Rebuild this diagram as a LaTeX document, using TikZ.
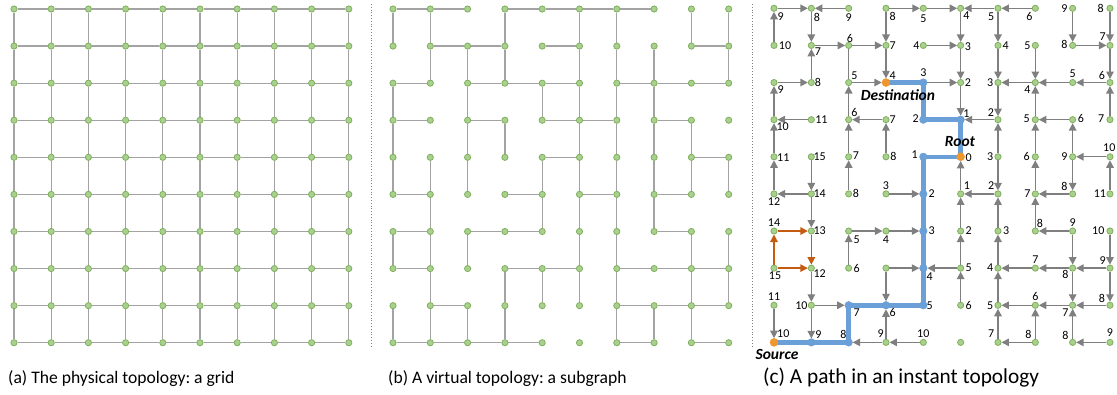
\documentclass[tikz,border=0pt]{standalone}
\usepackage{fontspec}
\setmainfont{Carlito}
\usetikzlibrary{arrows.meta}
\frenchspacing
\definecolor{nfill}{HTML}{A9D18E}
\definecolor{ndraw}{HTML}{7FAF5C}
\definecolor{gline}{HTML}{A3A3A3}
\definecolor{aline}{HTML}{7F7F7F}
\definecolor{pblue}{HTML}{6A9FD8}
\definecolor{porange}{HTML}{F0962E}
\definecolor{oarrow}{HTML}{C55A11}
\pgfdeclarelayer{bg}
\pgfsetlayers{bg,main}
\begin{document}
\begin{tikzpicture}[x=1pt,y=-1pt,
  gn/.style={circle,fill=nfill,draw=ndraw,line width=0.8pt,minimum size=6.2pt,inner sep=0pt},
  bn/.style={circle,fill=pblue,draw=pblue,minimum size=7.6pt,inner sep=0pt},
  on/.style={circle,fill=porange,draw=porange,minimum size=8pt,inner sep=0pt},
  gl/.style={draw=gline,line width=1.3pt},
  plainlink/.style={draw=aline,line width=1.4pt},
  arr/.style={draw=aline,line width=1.4pt,-{Triangle[length=7.5pt,width=7.5pt]}},
  oarr/.style={draw=oarrow,line width=1.4pt,-{Triangle[length=7.5pt,width=7.5pt]}},
  bluepath/.style={draw=pblue,line width=4.5pt,line join=round,line cap=round},
  lbl/.style={font=\fontsize{12}{13}\selectfont,inner sep=0pt,text=black},
  tagtxt/.style={font=\fontsize{15.5}{17}\selectfont\bfseries\itshape,inner sep=0pt},
  captxt/.style={font=\fontsize{17.6}{20}\selectfont,anchor=west,inner sep=0pt},
  bigcap/.style={font=\fontsize{21.3}{23}\selectfont,anchor=west,inner sep=0pt},
  sepline/.style={draw=gray,line width=0.8pt,dotted}]
\useasboundingbox (0,0) rectangle (1117,394);
% ---------- nodes ----------
\foreach \c in {0,...,9}{
  \foreach \r in {0,...,9}{
    \node[gn] (a-\c-\r) at ({14+37.2*\c},{9+37.08*\r}) {};
    \node[gn] (b-\c-\r) at ({393+37.3*\c},{9+37.08*\r}) {};
    \node[gn] (p-\c-\r) at ({774+37.33*\c},{8.3+37.12*\r}) {};
  }}
\foreach \c/\r in {1/9,2/9,2/8,3/8,4/8,4/7,4/6,4/5,4/4,5/3,4/3,4/2}{
  \node[bn] (p-\c-\r) at (p-\c-\r) {};}
\foreach \c/\r in {0/9,5/4,3/2}{
  \node[on] (p-\c-\r) at (p-\c-\r) {};}
\begin{pgfonlayer}{bg}
% ---------- (a) full grid ----------
\foreach \c in {0,...,9}{
  \foreach \r in {0,...,8}{
    \pgfmathtruncatemacro\rn{\r+1}
    \draw[gl] (a-\c-\r) -- (a-\c-\rn);
    \draw[gl] (a-\r-\c) -- (a-\rn-\c);
  }}
% ---------- (b) subgraph ----------
\foreach \c/\r in {0/0,1/0,3/0,4/0,5/0,6/0, 1/1,2/1,4/1,8/1, 0/2,2/2,3/2,4/2,6/2,7/2,8/2,
  0/3,2/3,4/3,5/3,7/3, 4/4,8/4, 0/5,3/5,5/5,7/5, 0/6,2/6,3/6,7/6,
  0/7,3/7,4/7,6/7,7/7,8/7, 1/8,6/8,7/8,8/8, 0/9,1/9,2/9,3/9,6/9,8/9}{
  \pgfmathtruncatemacro\cn{\c+1}
  \draw[gl] (b-\c-\r) -- (b-\cn-\r);}
\foreach \c/\r in {0/0,1/0,3/0,5/0,6/0,8/0,9/0, 1/1,2/1,3/1,5/1,6/1,7/1,9/1,
  0/2,2/2,4/2,5/2,6/2,7/2, 0/3,2/3,3/3,5/3,6/3,7/3,8/3,
  0/4,1/4,2/4,4/4,5/4,6/4,7/4,8/4,9/4, 1/5,4/5,5/5,6/5,7/5,
  0/6,1/6,2/6,5/6,6/6,8/6,9/6, 1/7,3/7,4/7,5/7,6/7,8/7,9/7,
  0/8,1/8,2/8,3/8,6/8,7/8,8/8}{
  \pgfmathtruncatemacro\rn{\r+1}
  \draw[gl] (b-\c-\r) -- (b-\c-\rn);}
% ---------- (c) instant topology ----------
\draw[bluepath] (p-0-9.center) -- (p-1-9.center) -- (p-2-9.center) -- (p-2-8.center)
  -- (p-3-8.center) -- (p-4-8.center) -- (p-4-7.center) -- (p-4-6.center) -- (p-4-5.center)
  -- (p-4-4.center) -- (p-5-4.center) -- (p-5-3.center) -- (p-4-3.center) -- (p-4-2.center)
  -- (p-3-2.center);
\end{pgfonlayer}
\draw[plainlink] (p-2-1) -- (p-2-2);
\foreach \xa/\ya/\xb/\yb in {
  0/0/1/0, 2/0/1/0, 3/0/4/0, 4/0/5/0, 6/0/5/0, 7/0/6/0,
  0/1/0/0, 1/0/1/1, 3/0/3/1, 5/0/5/1, 6/0/6/1, 8/0/8/1, 9/0/9/1,
  1/1/2/1, 2/1/3/1, 4/1/5/1, 8/1/9/1,
  1/2/1/1, 3/1/3/2, 5/1/5/2, 6/1/6/2, 7/1/7/2, 9/1/9/2,
  0/2/1/2, 2/2/3/2, 4/2/5/2, 7/2/6/2, 8/2/7/2, 9/2/8/2,
  0/3/0/2, 2/3/2/2, 5/2/5/3, 6/2/6/3, 7/3/7/2, 9/3/9/2,
  1/3/0/3, 3/3/2/3, 6/3/5/3, 8/3/7/3,
  0/4/0/3, 2/4/2/3, 3/4/3/3, 6/4/6/3, 7/4/7/3, 8/4/8/3,
  9/4/8/4,
  0/5/0/4, 1/4/1/5, 2/5/2/4, 5/5/5/4, 6/4/6/5, 7/5/7/4, 8/4/8/5, 9/5/9/4,
  1/5/0/5, 3/5/4/5, 6/5/5/5, 8/5/7/5,
  1/5/1/6, 5/6/5/5, 6/6/6/5, 7/6/7/5,
  2/6/3/6, 3/6/4/6, 8/6/7/6,
  2/7/2/6, 5/7/5/6, 6/7/6/6, 8/6/8/7, 9/6/9/7,
  3/7/4/7, 5/7/4/7, 7/7/6/7, 8/7/7/7, 9/7/8/7,
  1/7/1/8, 3/7/3/8, 5/8/5/7, 6/8/6/7, 8/7/8/8, 9/7/9/8,
  1/8/2/8, 7/8/6/8, 8/8/7/8, 9/8/8/8,
  0/8/0/9, 1/8/1/9, 3/9/3/8, 6/9/6/8, 7/9/7/8, 8/9/8/8,
  3/9/2/9, 4/9/3/9, 7/9/6/9, 9/9/8/9}{
  \draw[arr] (p-\xa-\ya) -- (p-\xb-\yb);}
\foreach \xa/\ya/\xb/\yb in {0/6/1/6, 0/7/0/6, 1/6/1/7, 0/7/1/7}{
  \draw[oarr] (p-\xa-\ya) -- (p-\xb-\yb);}
% ---------- labels ----------
\foreach \xa/\ya/\dx/\dy/\t in {
 0/0/6.7/8.7/9, 1/0/5.7/8.7/8, 2/0/0/9.3/9, 3/0/6.7/7.7/8, 4/0/0/10/5, 5/0/5.7/7.7/4, 6/0/-6.7/8.7/5, 7/0/-6/7.7/6, 8/0/-8.3/0/9, 9/0/-9.3/0/8,
 0/1/11/0/10, 1/1/6.7/6.7/7, 2/1/1.3/-6.7/6, 3/1/6.7/0/7, 4/1/-7/0/4, 5/1/7.3/1/3, 6/1/7.7/0/4, 7/1/-8/0/5, 8/1/-8.3/-1/8, 9/1/-7.3/-8.3/7,
 0/2/6.7/7.3/9, 1/2/6.7/0/8, 2/2/5.7/-6.7/5, 3/2/6.7/-6.7/4, 4/2/0/-10/3, 5/2/7.3/0/2, 6/2/-7.7/0/3, 7/2/-8/6.7/4, 8/2/0/-8.7/5, 9/2/-8/-6.7/6,
 0/3/8.7/6.7/10, 1/3/10/0/11, 2/3/5.7/-6.7/6, 3/3/6.7/0/7, 4/3/-7.7/-1/2, 5/3/5.7/-6/1, 6/3/-7/-6.7/2, 7/3/-8.7/-1/5, 8/3/8.3/-1/6, 9/3/-8.7/-1/7,
 0/4/9.3/1/11, 1/4/8.3/0/15, 2/4/7.3/-0.7/7, 3/4/7.3/-0.7/8, 4/4/-8.7/-2.3/1, 5/4/8/1/0, 6/4/-7.7/0/3, 7/4/-8.7/0/6, 8/4/-8.3/0/9, 9/4/-0.7/-9/10,
 0/5/0/8/12, 1/5/8.3/0/14, 2/5/7.3/-0.7/8, 3/5/0/-8.3/3, 4/5/8.3/0/2, 5/5/6.3/-8/1, 6/5/-6.7/-8/2, 7/5/-8/0/7, 8/5/-8.3/-7.3/8, 9/5/-10/0/11,
 0/6/0/-8.3/14, 1/6/8.3/0/13, 2/6/8/8.3/5, 3/6/0/8.3/4, 4/6/8.3/0/3, 5/6/8/0/2, 6/6/8.3/0/3, 7/6/4.7/-7.7/8, 8/6/0/-8.3/9, 9/6/-11.7/0/10,
 0/7/1/7.7/15, 1/7/8.3/5/12, 2/7/8/0/6, 4/7/6.3/8.3/4, 5/7/8/0/5, 6/7/-7.7/0/4, 7/7/0/-8.3/7, 8/7/-7.3/6.7/8, 9/7/-7.3/-7.7/9,
 0/8/0/-8.3/11, 1/8/-10/0/10, 2/8/8/7/7, 3/8/6.7/7/6, 4/8/6.3/0/5, 5/8/8/0/6, 6/8/-7.7/0/5, 7/8/0/-8.3/6, 8/8/-7.3/7/7, 9/8/-8/-7.3/8,
 0/9/9.3/-8.3/10, 1/9/7/-7.7/9, 2/9/-5.3/-7.7/8, 3/9/-5.3/-8.3/9, 4/9/0/-9/10, 6/9/-6.7/-8.3/7, 7/9/-7/-8.3/8, 8/9/-7.3/-6.7/8, 9/9/0/-9.3/9}{
  \path (p-\xa-\ya) ++(\dx,\dy) node[lbl] (l-\xa-\ya) {\t};}
\node[tagtxt] (dest) at (898,95) {Destination};
\node[tagtxt] (root) at (960,142) {Root};
\node[tagtxt] (src) at (777,354) {Source};
% ---------- separators and captions ----------
\coordinate (s1t) at (371,4); \coordinate (s1b) at (371,346);
\coordinate (s2t) at (752,4); \coordinate (s2b) at (752,346);
\draw[sepline] (s1t) -- (s1b);
\draw[sepline] (s2t) -- (s2b);
\node[captxt] (capa) at (8,379) {(a) The physical topology: a grid};
\node[captxt] (capb) at (388,379) {(b) A virtual topology: a subgraph};
\node[bigcap] (capc) at (763,378) {(c) A path in an instant topology};
\end{tikzpicture}
\end{document}
